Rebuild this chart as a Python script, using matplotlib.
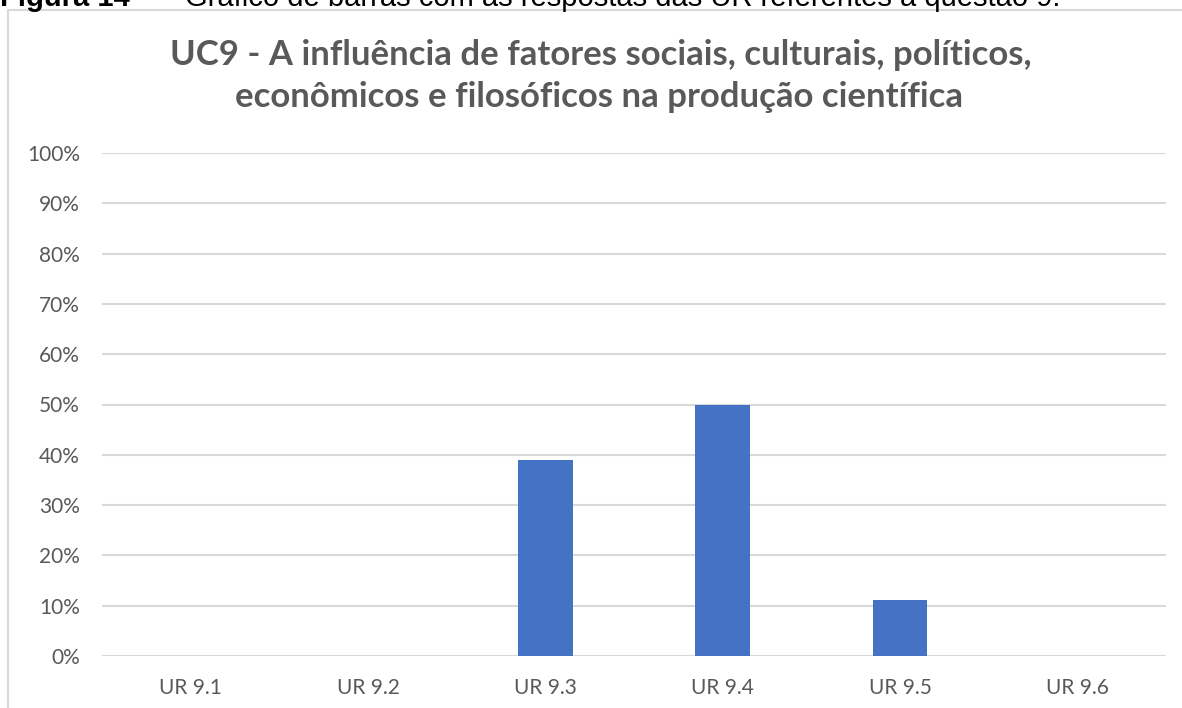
import matplotlib.pyplot as plt
from matplotlib.patches import Rectangle
from matplotlib.ticker import FixedLocator

categorias = ['UR 9.1', 'UR 9.2', 'UR 9.3', 'UR 9.4', 'UR 9.5', 'UR 9.6']
respostas = [0, 0, 38.9, 50.0, 11.1, 0]
y_ticks = [0, 10, 20, 30, 40, 50, 60, 70, 80, 90, 100]
y_labels = ['{}%'.format(v) for v in y_ticks]

titulo_l1 = 'UC9 - A influência de fatores sociais, culturais, políticos,'
titulo_l2 = 'econômicos e filosóficos na produção científica'

W, H = 1182, 708
fig = plt.figure(figsize=(W / 100, H / 100), dpi=100)

# caixa do grafico (cortada a direita e embaixo)
fig.patches.append(Rectangle((8 / W, -1), 2, 2 - 10 / H, transform=fig.transFigure,
                             fill=False, edgecolor='#d9d9d9', linewidth=1.5))

# legenda da figura, cortada no topo
fig.text(0 / W, 1 - 6 / H, 'Figura 14 -', fontsize=21, fontweight='bold',
         family='Liberation Sans', va='baseline', ha='left')
fig.text(185 / W, 1 - 6 / H, 'Gráfico de barras com as respostas das UR referentes à questão 9.',
         fontsize=21, family='Liberation Sans', va='baseline', ha='left')

ax = fig.add_axes([102 / W, 1 - 656 / H, 1064 / W, 503 / H])
x = range(len(categorias))
ax.bar(x, respostas, width=0.31, color='#4472c4', zorder=3)

ax.set_xlim(-0.5, len(categorias) - 0.5)
ax.set_ylim(0, 100)
ax.yaxis.set_major_locator(FixedLocator(y_ticks))
ax.set_yticklabels(y_labels)
ax.set_xticks(list(x))
ax.set_xticklabels(categorias)
ax.grid(axis='y', color='#d9d9d9', linewidth=1.5, zorder=0)
for s in ax.spines.values():
    s.set_visible(False)
ax.tick_params(length=0, colors='#595959', labelsize=15)
ax.tick_params(axis='y', pad=16)
ax.tick_params(axis='x', pad=16)
for lab in ax.get_xticklabels() + ax.get_yticklabels():
    lab.set_family('Lato')

fig.text(601 / W, 1 - 65 / H, titulo_l1, ha='center', va='baseline', fontsize=25,
         fontweight='bold', color='#595959', family='Lato')
fig.text(599 / W, 1 - 107 / H, titulo_l2, ha='center', va='baseline', fontsize=25,
         fontweight='bold', color='#595959', family='Lato')

fig.savefig('out.png', dpi=100)
